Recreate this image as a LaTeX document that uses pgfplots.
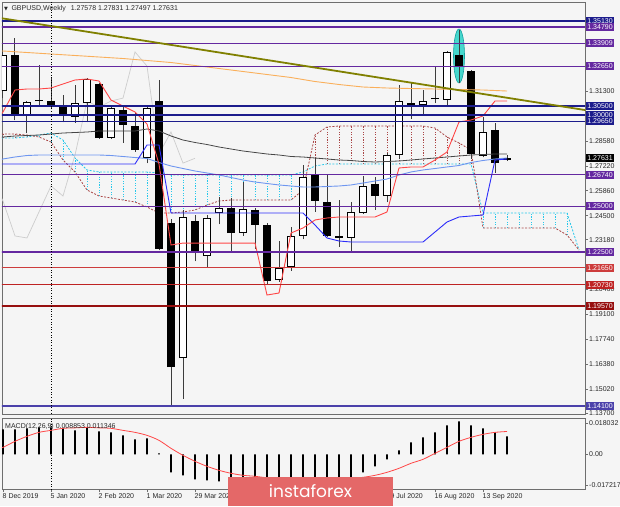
\documentclass[border=0pt]{standalone}
\usepackage{fontspec}
\setmainfont{Liberation Sans}
\newfontfamily\dejavu{DejaVu Sans}
\newfontfamily\logofont{Poppins}
\usepackage{pgfplots}
\usepackage{pgfplotstable}
\pgfplotsset{compat=1.18}
\newcommand\sz{\fontsize{7}{8}\selectfont}
\definecolor{bg}{RGB}{245,245,245}
\definecolor{framec}{RGB}{110,110,110}
\definecolor{labc}{RGB}{40,40,40}
\definecolor{navyl}{RGB}{28,28,140}
\definecolor{purp}{RGB}{100,40,160}
\definecolor{redl}{RGB}{205,60,60}
\definecolor{redb}{RGB}{190,35,35}
\definecolor{dred}{RGB}{150,15,15}
\definecolor{slate}{RGB}{75,65,170}
\definecolor{olivec}{RGB}{128,128,0}
\definecolor{orngc}{RGB}{250,175,90}
\definecolor{tenkc}{RGB}{255,70,70}
\definecolor{kijc}{RGB}{45,45,250}
\definecolor{lbluec}{RGB}{110,150,240}
\definecolor{dgrayc}{RGB}{70,70,70}
\definecolor{chikc}{RGB}{205,205,205}
\definecolor{kcyan}{RGB}{40,200,235}
\definecolor{kbrown}{RGB}{170,70,70}
\definecolor{ellc}{RGB}{70,215,205}
\definecolor{ellD}{RGB}{20,160,160}
\definecolor{logoc}{RGB}{228,104,104}
\definecolor{wickc}{RGB}{60,60,60}

\pgfplotstableread{
i O H L C
-4 1.3130 1.3514 1.3090 1.3325
-2 1.2994 1.3075 1.2901 1.3071
2 1.2989 1.3163 1.2956 1.3065
3 1.3065 1.3202 1.2961 1.3196
5 1.2874 1.3045 1.2870 1.3038
8 1.2765 1.3045 1.2737 1.3038
11 1.1672 1.2481 1.1449 1.2442
13 1.2229 1.2453 1.2164 1.2437
14 1.2464 1.2552 1.2404 1.2492
16 1.2355 1.2634 1.2340 1.2486
19 1.2097 1.2310 1.2090 1.2163
20 1.2170 1.2388 1.2150 1.2339
21 1.2339 1.2726 1.2322 1.2661
25 1.2328 1.2524 1.2251 1.2470
26 1.2464 1.2666 1.2460 1.2612
28 1.2557 1.2792 1.2524 1.2781
29 1.2781 1.3163 1.2759 1.3076
31 1.3054 1.3136 1.3000 1.3076
33 1.3082 1.3349 1.3054 1.3344
36 1.2776 1.2989 1.2770 1.2907
}\tabWhite

\pgfplotstableread{
i O H L C
-3 1.3327 1.3420 1.2972 1.2994
0 1.3076 1.3202 1.3030 1.3049
1 1.3043 1.3109 1.2960 1.3005
4 1.3169 1.3172 1.2870 1.2874
6 1.3027 1.3054 1.2847 1.2945
7 1.2940 1.3011 1.2800 1.2808
9 1.3076 1.3191 1.2260 1.2268
10 1.2410 1.2430 1.1410 1.1623
12 1.2421 1.2453 1.2202 1.2257
15 1.2492 1.2546 1.2246 1.2355
17 1.2481 1.2490 1.2268 1.2399
18 1.2399 1.2410 1.2075 1.2093
22 1.2677 1.2765 1.2470 1.2530
23 1.2524 1.2672 1.2333 1.2339
24 1.2339 1.2535 1.2279 1.2328
27 1.2623 1.2661 1.2481 1.2557
30 1.3065 1.3180 1.2978 1.3043
34 1.3327 1.3464 1.3174 1.3267
35 1.3240 1.3245 1.2760 1.2787
37 1.2918 1.2956 1.2683 1.2737
}\tabBlack

\pgfplotstableread{
i O H L C
-1 1.3076 1.3273 1.3049 1.3081
32 1.3087 1.3262 1.3065 1.3092
38 1.27578 1.27831 1.27497 1.27631
}\tabDoji

\pgfplotstableread{
i tk kj lb dg
-5 1.29500 1.27320 1.27374 1.28740
-4 1.30160 1.27320 1.27593 1.28794
-3 1.31361 1.27320 1.27702 1.28849
-2 1.31416 1.27320 1.27784 1.28876
-1 1.31416 1.27320 1.27811 1.28903
0 1.31470 1.27320 1.27811 1.28958
1 1.31689 1.27320 1.27811 1.29012
2 1.31907 1.27320 1.27811 1.29040
3 1.31962 1.27320 1.27811 1.29067
4 1.31853 1.27320 1.27811 1.29122
5 1.30815 1.27320 1.27784 1.29122
6 1.30487 1.27320 1.27729 1.29122
7 1.30160 1.27320 1.27674 1.29122
8 1.29504 1.28357 1.27620 1.29231
9 1.27320 1.28357 1.27401 1.29122
10 1.22895 1.24643 1.27211 1.28849
11 1.23000 1.24643 1.27074 1.28630
12 1.23000 1.24643 1.26937 1.28494
13 1.23000 1.24643 1.26829 1.28384
14 1.23000 1.24643 1.26720 1.28248
15 1.23000 1.24643 1.26582 1.28139
16 1.23000 1.24643 1.26445 1.28030
17 1.23000 1.24643 1.26336 1.27948
18 1.20164 1.24643 1.26254 1.27866
19 1.20273 1.24643 1.26174 1.27811
20 1.23551 1.24643 1.26118 1.27729
21 1.23824 1.24643 1.26064 1.27702
22 1.24261 1.23987 1.26064 1.27647
23 1.24370 1.23278 1.26091 1.27593
24 1.24425 1.23114 1.26118 1.27538
25 1.24425 1.23059 1.26174 1.27511
26 1.24425 1.23059 1.26281 1.27456
27 1.24425 1.23059 1.26391 1.27429
28 1.24698 1.23059 1.26500 1.27456
29 1.27102 1.23059 1.26720 1.27484
30 1.27157 1.23059 1.26884 1.27538
31 1.27157 1.23059 1.26993 1.27593
32 1.27538 1.23605 1.27074 1.27647
33 1.27975 1.24152 1.27157 1.27702
34 1.29614 1.24425 1.27237 1.27757
35 1.29723 1.24479 1.27401 1.27811
36 1.29941 1.24534 1.27511 1.27838
37 1.30760 1.27538 1.27593 1.27866
38 1.30760 1.27593 1.27647 1.27866
}\tabInd

\pgfplotstableread{
i v
-5 1.33520
-4 1.33491
-2 1.33409
0 1.33327
2 1.33246
4 1.33164
6 1.33082
8 1.32973
10 1.32863
12 1.32699
14 1.32535
16 1.32372
18 1.32208
20 1.32044
22 1.31825
24 1.31661
26 1.31525
28 1.31470
30 1.31443
32 1.31416
34 1.31388
36 1.31361
38 1.31306
}\tabOrange

\pgfplotstableread{
i v
-5 1.2661
-4 1.2530
-3 1.2339
-2 1.2328
-1 1.2470
0 1.2612
1 1.2557
2 1.2781
3 1.3076
4 1.3043
5 1.3076
6 1.3092
7 1.3344
8 1.3267
9 1.2787
10 1.2907
11 1.2737
12 1.27631
}\tabChik

\pgfplotstableread{
i cy br
-5 1.28740 1.28958
-4 1.28740 1.28958
-3 1.28740 1.28958
-2 1.28794 1.28903
-1 1.28903 1.28794
0 1.29012 1.28521
1 1.28630 1.27538
2 1.27647 1.26884
3 1.26993 1.25899
4 1.26884 1.25572
5 1.26884 1.25463
6 1.26884 1.25353
7 1.26884 1.25244
8 1.26884 1.24971
9 1.26829 1.24643
10 1.26720 1.24643
11 1.26720 1.24698
12 1.26720 1.24807
13 1.26720 1.25080
14 1.26720 1.25299
15 1.26720 1.25353
16 1.26720 1.25353
17 1.26720 1.25353
18 1.26720 1.25353
19 1.26720 1.25353
20 1.26720 1.25353
21 1.26884 1.25899
22 1.27211 1.28903
23 1.27320 1.29340
24 1.27320 1.29395
25 1.27320 1.29395
26 1.27320 1.29395
27 1.27320 1.29395
28 1.27320 1.29395
29 1.27320 1.29395
30 1.27320 1.29395
31 1.27320 1.29395
32 1.27320 1.29286
33 1.27320 1.28794
34 1.27320 1.28467
35 1.27320 1.28084
36 1.24643 1.23824
37 1.24643 1.23824
38 1.24643 1.23824
39 1.24643 1.23824
40 1.24643 1.23824
41 1.24643 1.23824
42 1.24643 1.23824
43 1.24643 1.23442
44 1.22622 1.22622
}\tabCloud

\pgfplotstableread{
i lo hi
-1 1.28794 1.28903
0 1.28521 1.29012
1 1.27538 1.28630
2 1.26884 1.27647
3 1.25899 1.26993
4 1.25572 1.26884
5 1.25463 1.26884
6 1.25353 1.26884
7 1.25244 1.26884
8 1.24971 1.26884
9 1.24643 1.26829
10 1.24643 1.26720
11 1.24698 1.26720
12 1.24807 1.26720
13 1.25080 1.26720
14 1.25299 1.26720
15 1.25353 1.26720
16 1.25353 1.26720
17 1.25353 1.26720
18 1.25353 1.26720
19 1.25353 1.26720
20 1.25353 1.26720
21 1.25899 1.26884
36 1.23824 1.24643
37 1.23824 1.24643
38 1.23824 1.24643
39 1.23824 1.24643
40 1.23824 1.24643
41 1.23824 1.24643
42 1.23824 1.24643
43 1.23442 1.24643
}\tabCyanHatch

\pgfplotstableread{
i lo hi
-4 1.28740 1.28958
-3 1.28740 1.28958
-2 1.28794 1.28903
22 1.27211 1.28903
23 1.27320 1.29340
24 1.27320 1.29395
25 1.27320 1.29395
26 1.27320 1.29395
27 1.27320 1.29395
28 1.27320 1.29395
29 1.27320 1.29395
30 1.27320 1.29395
31 1.27320 1.29395
32 1.27320 1.29286
33 1.27320 1.28794
34 1.27320 1.28467
35 1.27320 1.28084
}\tabBrownHatch

\pgfplotstableread{
i m s
-5 0.01240 0.00100
-4 0.01240 0.00347
-3 0.01240 0.00645
-2 0.01290 0.00893
-1 0.01339 0.01091
0 0.01339 0.01190
1 0.01290 0.01290
2 0.01190 0.01314
3 0.01339 0.01339
4 0.01141 0.01314
5 0.01091 0.01290
6 0.00942 0.01190
7 0.00744 0.01091
8 0.00794 0.00942
9 0.00050 0.00694
10 -0.00893 0.00298
11 -0.01042 -0.00050
12 -0.01240 -0.00347
13 -0.01290 -0.00595
14 -0.01339 -0.00794
15 -0.01389 -0.00942
16 -0.01389 -0.01042
17 -0.01389 -0.01091
18 -0.01438 -0.01166
19 -0.01438 -0.01215
20 -0.01389 -0.01240
21 -0.01389 -0.01265
22 -0.01389 -0.01265
23 -0.01339 -0.01240
24 -0.01290 -0.01215
25 -0.01141 -0.01190
26 -0.00893 -0.01141
27 -0.00595 -0.01042
28 -0.00248 -0.00893
29 0.00198 -0.00694
30 0.00595 -0.00446
31 0.00843 -0.00248
32 0.01091 0.00050
33 0.01438 0.00347
34 0.01637 0.00645
35 0.01438 0.00843
36 0.01290 0.00992
37 0.01091 0.01091
38 0.008853 0.011346
}\tabMacd

\tikzset{lvbox/.style={anchor=west, text=white, inner sep=1pt, xshift=1.2pt, font=\sz, minimum height=8pt}}
\pgfplotsset{
  barsonly/.style={only marks, mark=none, mark size=0pt, mark options={draw=none, fill=none}, forget plot,
    error bars/.cd, y dir=plus, y explicit, error mark=none, error bar style={#1}},
}

\begin{document}
\begin{tikzpicture}[font=\sz]
\fill[bg] (0,0) rectangle (620pt,-506pt);
\path[use as bounding box] (0,0) rectangle (620pt,-506pt);

\begin{axis}[
  at={(2pt,-2pt)}, anchor=north west,
  scale only axis, width=583pt, height=412pt,
  xmin=-4.0833, xmax=44.5, ymin=1.13664, ymax=1.36168,
  axis background/.style={fill=bg},
  axis line style={framec, line width=0.8pt},
  xtick=\empty,
  ytick={1.3130,1.2858,1.2722,1.2586,1.2450,1.2318,1.2046,1.1910,1.1774,1.1638,1.1502,1.1370},
  yticklabels={1.31300,1.28580,1.27220,1.25860,1.24500,1.23180,1.20460,1.19100,1.17740,1.16380,1.15020,1.13700},
  scaled y ticks=false,
  ytick pos=right, yticklabel pos=right,
  tick align=outside, major tick length=3pt,
  tick style={framec, line width=0.6pt},
  yticklabel style={font=\sz, text=labc, inner sep=1pt},
  clip mode=individual,
]
% highlight ellipse
\fill[ellc, draw=ellD, line width=0.6pt] (axis cs:34,1.3322) ellipse [x radius=5.5pt, y radius=27pt];

% Ichimoku cloud hatching
\addplot[barsonly={kcyan, line width=0.8pt, dash pattern=on 1.2pt off 1.4pt}]
  table[x=i, y=lo, y error expr=\thisrow{hi}-\thisrow{lo}] \tabCyanHatch;
\addplot[barsonly={kbrown, line width=0.8pt, dash pattern=on 1.2pt off 1.4pt}]
  table[x=i, y=lo, y error expr=\thisrow{hi}-\thisrow{lo}] \tabBrownHatch;
\addplot[kcyan, line width=0.8pt, dash pattern=on 2pt off 1.5pt] table[x=i, y=cy] \tabCloud;
\addplot[kbrown, line width=0.8pt, dash pattern=on 2pt off 1.5pt] table[x=i, y=br] \tabCloud;

% chikou span
\addplot[chikc, line width=0.7pt] table[x=i, y=v] \tabChik;

% wicks
\addplot[barsonly={wickc, line width=1pt}]
  table[x=i, y=L, y error expr=\thisrow{H}-\thisrow{L}] \tabWhite;
\addplot[barsonly={wickc, line width=1pt}]
  table[x=i, y=L, y error expr=\thisrow{H}-\thisrow{L}] \tabBlack;
\addplot[barsonly={wickc, line width=1pt}]
  table[x=i, y=L, y error expr=\thisrow{H}-\thisrow{L}] \tabDoji;
% bodies
\addplot[barsonly={black, line width=7.5pt}]
  table[x=i, y=C, y error expr=\thisrow{O}-\thisrow{C}] \tabBlack;
\addplot[barsonly={black, line width=7.5pt}]
  table[x=i, y=O, y error expr=\thisrow{C}-\thisrow{O}] \tabWhite;
\addplot[barsonly={white, line width=5.5pt}]
  table[x=i, y expr=\thisrow{O}+0.00055, y error expr=\thisrow{C}-\thisrow{O}-0.0011] \tabWhite;
\addplot[barsonly={black, line width=8.5pt}]
  table[x=i, y expr=0.5*(\thisrow{O}+\thisrow{C})-0.0005, y error expr=0.001] \tabDoji;

% moving averages and Ichimoku lines
\addplot[orngc, line width=0.9pt] table[x=i, y=v] \tabOrange;
\addplot[dgrayc, line width=0.8pt] table[x=i, y=dg] \tabInd;
\addplot[lbluec, line width=0.9pt] table[x=i, y=lb] \tabInd;
\addplot[kijc, line width=0.9pt] table[x=i, y=kj] \tabInd;
\addplot[tenkc, line width=0.9pt] table[x=i, y=tk] \tabInd;

% horizontal levels
\addplot[navyl, line width=1.6pt] coordinates {(-5,1.3513) (45,1.3513)};
\addplot[purp, line width=1.6pt] coordinates {(-5,1.3479) (45,1.3479)};
\addplot[purp, line width=1.6pt] coordinates {(-5,1.33909) (45,1.33909)};
\addplot[purp, line width=1.6pt] coordinates {(-5,1.3265) (45,1.3265)};
\addplot[navyl, line width=1.6pt] coordinates {(-5,1.3050) (45,1.3050)};
\addplot[navyl, line width=1.6pt] coordinates {(-5,1.3000) (45,1.3000)};
\addplot[navyl, line width=1.6pt] coordinates {(-5,1.2965) (45,1.2965)};
\addplot[purp, line width=1.6pt] coordinates {(-5,1.2674) (45,1.2674)};
\addplot[purp, line width=1.6pt] coordinates {(-5,1.2500) (45,1.2500)};
\addplot[purp, line width=1.6pt] coordinates {(-5,1.2250) (45,1.2250)};
\addplot[redl, line width=0.9pt] coordinates {(-5,1.2165) (45,1.2165)};
\addplot[redb, line width=1.4pt] coordinates {(-5,1.2073) (45,1.2073)};
\addplot[dred, line width=1.4pt] coordinates {(-5,1.1957) (45,1.1957)};
\addplot[slate, line width=1.4pt] coordinates {(-5,1.1410) (45,1.1410)};

% trend line
\addplot[olivec, line width=1.8pt] coordinates {(-5,1.35371) (45,1.30216)};

% period separator
\addplot[black, dotted, line width=0.6pt] coordinates {(0,1.13) (0,1.37)};

\coordinate (Lv1) at (axis cs:44.5,1.3513);
\coordinate (Lv2) at (axis cs:44.5,1.3479);
\coordinate (Lv3) at (axis cs:44.5,1.33909);
\coordinate (Lv4) at (axis cs:44.5,1.3265);
\coordinate (Lv5) at (axis cs:44.5,1.3050);
\coordinate (Lv6) at (axis cs:44.5,1.3000);
\coordinate (Lv7) at (axis cs:44.5,1.2965);
\coordinate (Lv8) at (axis cs:44.5,1.2674);
\coordinate (Lv9) at (axis cs:44.5,1.2500);
\coordinate (Lv10) at (axis cs:44.5,1.2250);
\coordinate (Lv11) at (axis cs:44.5,1.2165);
\coordinate (Lv12) at (axis cs:44.5,1.2073);
\coordinate (Lv13) at (axis cs:44.5,1.1957);
\coordinate (Lv14) at (axis cs:44.5,1.1410);
\coordinate (Lvc) at (axis cs:44.5,1.27631);
\end{axis}

\foreach \n/\c/\t in {Lv1/navyl/1.35130, Lv2/purp/1.34790, Lv3/purp/1.33909, Lv4/purp/1.32650,
  Lv5/navyl/1.30500, Lv6/navyl/1.30000, Lv7/navyl/1.29650, Lv8/purp/1.26740, Lv9/purp/1.25000,
  Lv10/purp/1.22500, Lv11/redl/1.21650, Lv12/redb/1.20730, Lv13/dred/1.19570, Lv14/slate/1.14100,
  Lvc/black/1.27631}
  {\node[lvbox, fill=\c] at (\n) {\t};}

\begin{axis}[
  at={(2pt,-418pt)}, anchor=north west,
  scale only axis, width=583pt, height=71pt,
  xmin=-4.0833, xmax=44.5, ymin=-0.017217, ymax=0.018032,
  axis background/.style={fill=bg},
  axis line style={framec, line width=0.8pt},
  xtick={-4,0,4,8,12,28,32,36},
  xticklabels={8 Dec 2019,5 Jan 2020,2 Feb 2020,1 Mar 2020,29 Mar 2020,19 Jul 2020,16 Aug 2020,13 Sep 2020},
  xtick pos=bottom,
  xticklabel style={anchor=north west, xshift=-2pt, inner sep=1.5pt, font=\sz, text=labc},
  ytick={0.0155,0,-0.0155},
  yticklabels={0.018032,0.00,-0.017217},
  scaled y ticks=false,
  ytick pos=right, yticklabel pos=right,
  tick align=outside, major tick length=3pt,
  tick style={framec, line width=0.6pt},
  yticklabel style={font=\sz, text=labc, inner sep=1pt},
  clip mode=individual,
]
\addplot[ybar, bar width=1.8pt, fill=black, draw=none] table[x=i, y=m] \tabMacd;
\addplot[tenkc, line width=0.8pt, smooth] table[x=i, y=s] \tabMacd;
\addplot[black, dotted, line width=0.6pt] coordinates {(0,-0.02) (0,0.02)};
\end{axis}

% header texts
\node[anchor=base west, inner sep=0pt, text=labc] at (4pt,-10pt)
  {{\dejavu\fontsize{5}{6}\selectfont ▼}\hspace{3.5pt}GBPUSD,Weekly\hspace{5pt}1.27578 1.27831 1.27497 1.27631};
\node[anchor=base west, inner sep=0pt, text=labc] at (5pt,-428pt)
  {MACD(12,26,9) 0.008853 0.011346};

% watermark
\fill[logoc] (228pt,-477pt) rectangle (393pt,-506pt);
\node[text=white, font=\logofont\fontsize{17}{18}\selectfont] at (310.5pt,-491pt) {instaforex};
\end{tikzpicture}
\end{document}
